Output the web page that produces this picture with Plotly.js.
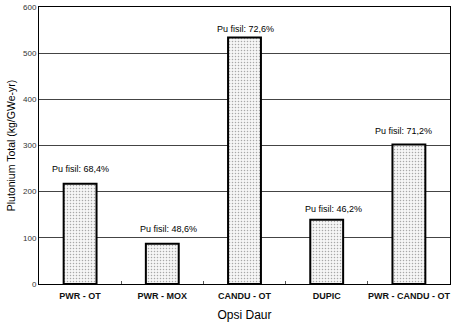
<!DOCTYPE html>
<html><head><meta charset="utf-8">
<script src="https://cdn.plot.ly/plotly-3.0.1.min.js"></script>
<style>body{margin:0;background:#fff}#c{width:456px;height:322px}</style>
</head><body><div id="c"></div>
<script>
const categories = ["PWR - OT", "PWR - MOX", "CANDU - OT", "DUPIC", "PWR - CANDU - OT"];
const plutoniumTotal = [217, 87, 534, 139, 302];
const fissileLabels = ["Pu fisil: 68,4%", "Pu fisil: 48,6%", "Pu fisil: 72,6%", "Pu fisil: 46,2%", "Pu fisil: 71,2%"];
const labelY = [249, 119, 552, 162, 331];
const labelShift = [0, 6, 1, 7, -5];

const font = "Liberation Sans, Arial, sans-serif";
const annotations = categories.map((c, i) => ({
  x: c, y: labelY[i], xref: "x", yref: "y", text: fissileLabels[i],
  showarrow: false, xshift: labelShift[i],
  font: {family: font, size: 9, color: "#000"}
}));

Plotly.newPlot("c", [{
  type: "bar", x: categories, y: plutoniumTotal, width: 0.4,
  marker: {color: "#f2f2f2", line: {color: "#000", width: 2},
    pattern: {shape: ".", fgcolor: "#a8a8a8", bgcolor: "#f6f6f6", size: 3, solidity: 0.2}},
  hoverinfo: "skip"
}], {
  width: 456, height: 322,
  margin: {l: 39, r: 6, t: 7, b: 38, autoexpand: false},
  paper_bgcolor: "#fff", plot_bgcolor: "#fff",
  showlegend: false,
  font: {family: font, color: "#000"},
  xaxis: {
    showline: true, linecolor: "#000", linewidth: 1, mirror: true,
    ticks: "inside", tickson: "boundaries", ticklen: 3, tickcolor: "#555",
    showgrid: false, tickangle: 0, automargin: false, ticklabelstandoff: 3,
    tickfont: {family: font, size: 9, color: "#111", weight: "bold"},
    title: {text: "Opsi Daur", font: {family: font, size: 12, color: "#000"}, standoff: 24}
  },
  yaxis: {
    range: [0, 600], dtick: 100, automargin: false,
    showline: true, linecolor: "#000", linewidth: 1, mirror: true,
    ticks: "", showgrid: true, gridcolor: "#444", gridwidth: 1,
    zeroline: false,
    tickfont: {family: font, size: 8, color: "#333"},
    title: {text: "Plutonium Total (kg/GWe-yr)", font: {family: font, size: 10.5, color: "#000"}, standoff: 5}
  },
  annotations: annotations
}, {displayModeBar: false, staticPlot: true});
</script></body></html>
